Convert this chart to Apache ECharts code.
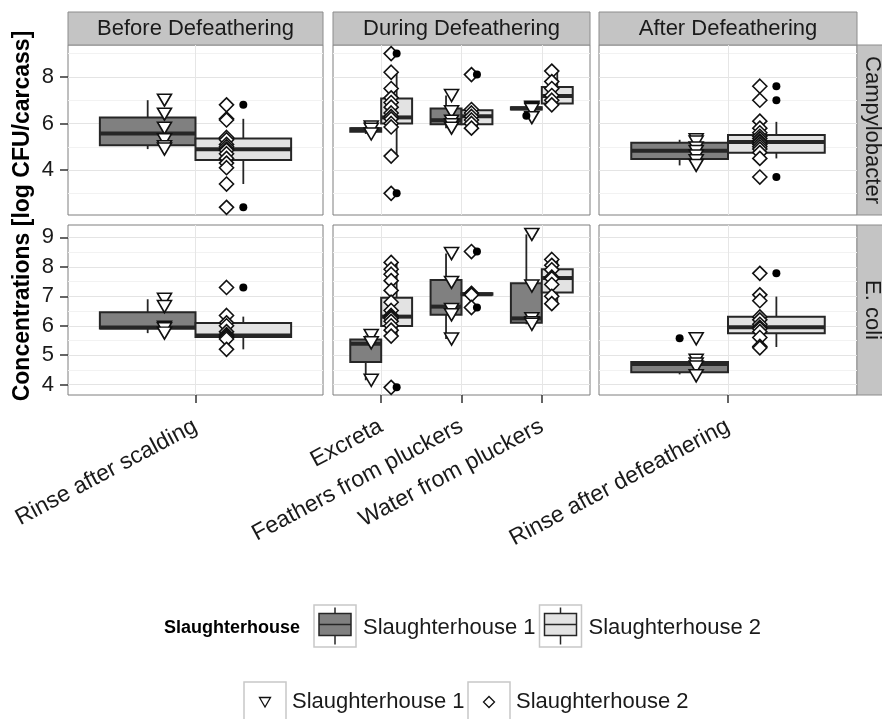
<!DOCTYPE html>
<html>
<head>
<meta charset="utf-8">
<title>Concentrations by sampling location</title>
<script src="https://cdn.jsdelivr.net/npm/echarts@6/dist/echarts.min.js"></script>
<style>
  html, body { margin: 0; padding: 0; background: #fff; }
  #chart { width: 882px; height: 719px; }
</style>
</head>
<body>
<div id="chart"></div>
<script>
const stages = ['Before Defeathering', 'During Defeathering', 'After Defeathering'];
const bacteria = ['Campylobacter', 'E. coli'];
const stageLocations = [
  ['Rinse after scalding'],
  ['Excreta', 'Feathers from pluckers', 'Water from pluckers'],
  ['Rinse after defeathering']
];
const houses = ['Slaughterhouse 1', 'Slaughterhouse 2'];

// axis ticks and ranges per row
const campyTicks = [4, 6, 8];
const campyMinor = [3, 5, 7, 9];
const campyRange = [2.07, 9.37];
const ecoliTicks = [4, 5, 6, 7, 8, 9];
const ecoliMinor = [4.5, 5.5, 6.5, 7.5, 8.5];
const ecoliRange = [3.65, 9.42];

// box stats [lower whisker, Q1, median, Q3, upper whisker], one row per location
const campyBoxSH1 = [
  [4.9, 5.07, 5.57, 6.26, 7.0],
  [5.55, 5.65, 5.75, 5.8, 5.85],
  [5.8, 5.97, 6.14, 6.64, 7.2],
  [6.6, 6.6, 6.65, 6.7, 6.7],
  [4.2, 4.47, 4.83, 5.17, 5.3]
];
const campyBoxSH2 = [
  [3.4, 4.43, 4.89, 5.36, 6.2],
  [4.6, 6.0, 6.26, 7.07, 8.2],
  [5.8, 5.97, 6.31, 6.57, 6.6],
  [6.8, 6.86, 7.18, 7.57, 8.25],
  [4.5, 4.74, 5.21, 5.5, 6.07]
];
const ecoliBoxSH1 = [
  [5.75, 5.91, 5.94, 6.46, 6.9],
  [4.15, 4.77, 5.39, 5.53, 5.67],
  [5.55, 6.37, 6.65, 7.55, 8.45],
  [6.05, 6.1, 6.25, 7.44, 9.1],
  [4.35, 4.42, 4.7, 4.77, 4.8]
];
const ecoliBoxSH2 = [
  [5.2, 5.62, 5.67, 6.09, 6.31],
  [5.65, 5.99, 6.31, 6.95, 8.15],
  [7.04, 7.05, 7.07, 7.1, 7.1],
  [6.75, 7.13, 7.62, 7.92, 8.25],
  [5.28, 5.75, 5.95, 6.31, 6.99]
];

// outliers
const campyOutSH1 = [[], [], [], [6.33], []];
const campyOutSH2 = [[6.8, 2.4], [9.0, 3.0], [8.1], [], [7.6, 7.0, 3.7]];
const ecoliOutSH1 = [[], [], [], [], [5.58]];
const ecoliOutSH2 = [[7.3], [3.91], [8.52, 6.62], [], [7.78]];

// individual samples
const campySH1 = [
  [7.0, 6.4, 5.8, 5.3, 5.0, 4.9],
  [5.85, 5.75, 5.55],
  [7.2, 6.5, 6.1, 5.95, 5.8],
  [6.7, 6.65, 6.6, 6.25],
  [5.3, 5.2, 4.95, 4.8, 4.6, 4.4, 4.2]
];
const campySH2 = [
  [6.8, 6.2, 6.15, 5.4, 5.3, 5.1, 5.0, 4.9, 4.85, 4.7, 4.5, 4.3, 4.1, 3.4, 2.4],
  [9.0, 8.2, 7.5, 7.1, 6.9, 6.7, 6.45, 6.3, 6.2, 6.0, 5.85, 4.6, 3.0],
  [8.1, 6.6, 6.45, 6.3, 6.15, 6.0, 5.8],
  [8.25, 7.8, 7.5, 7.2, 7.0, 6.8],
  [7.6, 7.0, 6.1, 5.8, 5.6, 5.45, 5.35, 5.25, 5.2, 5.1, 5.0, 4.9, 4.75, 4.5, 3.7]
];
const ecoliSH1 = [
  [6.9, 6.65, 5.95, 5.9, 5.75],
  [5.67, 5.42, 4.15],
  [8.45, 7.47, 6.55, 6.37, 5.55],
  [9.1, 7.35, 6.24, 6.1, 6.05],
  [5.56, 4.83, 4.7, 4.6, 4.3]
];
const ecoliSH2 = [
  [7.3, 6.35, 6.1, 6.0, 5.8, 5.7, 5.65, 5.6, 5.55, 5.2],
  [8.15, 7.92, 7.75, 7.53, 7.2, 6.8, 6.52, 6.35, 6.3, 6.25, 6.15, 6.0, 5.85, 5.65, 3.91],
  [8.52, 7.1, 7.07, 7.05, 6.62],
  [8.25, 8.05, 7.9, 7.65, 7.6, 7.4, 7.0, 6.75],
  [7.78, 7.05, 6.85, 6.3, 6.2, 6.05, 5.95, 5.9, 5.8, 5.6, 5.3, 5.25]
];

const FONT = "'Liberation Sans', Arial, Helvetica, sans-serif";
const INK = '#262626';
const colLeft = [68, 333, 599];
const colWidth = [255, 257, 258];
const rowTop = [45, 225];
const rowHeight = 170;
const boxWidth = [0.45, 0.385, 0.45];
const pointShift = [0.146, 0.124, 0.148];
const boxFill = ['#808080', '#e3e3e3'];

const rows = [
  { ticks: campyTicks, minor: campyMinor, range: campyRange,
    box: [campyBoxSH1, campyBoxSH2], out: [campyOutSH1, campyOutSH2], pts: [campySH1, campySH2] },
  { ticks: ecoliTicks, minor: ecoliMinor, range: ecoliRange,
    box: [ecoliBoxSH1, ecoliBoxSH2], out: [ecoliOutSH1, ecoliOutSH2], pts: [ecoliSH1, ecoliSH2] }
];

// flat location index -> facet column / position in it
const locCol = [], locPos = [];
stageLocations.forEach((locs, c) => locs.forEach((_, p) => { locCol.push(c); locPos.push(p + 1); }));

function boxRenderer(w) {
  return function (params, api) {
    const x = api.value(0);
    const sh = api.value(6);
    const lo = api.coord([x, api.value(1)]);
    const q1 = api.coord([x, api.value(2)]);
    const med = api.coord([x, api.value(3)]);
    const q3 = api.coord([x, api.value(4)]);
    const hi = api.coord([x, api.value(5)]);
    const px = api.size([w, 0])[0];
    const cx = med[0];
    return {
      type: 'group',
      children: [
        { type: 'line', shape: { x1: cx, y1: hi[1], x2: cx, y2: q3[1] }, style: { stroke: INK, lineWidth: 1.8 } },
        { type: 'line', shape: { x1: cx, y1: q1[1], x2: cx, y2: lo[1] }, style: { stroke: INK, lineWidth: 1.8 } },
        { type: 'rect', shape: { x: cx - px / 2, y: q3[1], width: px, height: Math.max(q1[1] - q3[1], 0) },
          style: { fill: boxFill[sh], stroke: INK, lineWidth: 2 } },
        { type: 'line', shape: { x1: cx - px / 2, y1: med[1], x2: cx + px / 2, y2: med[1] }, style: { stroke: INK, lineWidth: 4 } }
      ]
    };
  };
}

const grids = [], xAxes = [], yAxes = [], series = [];

rows.forEach((row, r) => {
  stageLocations.forEach((locs, c) => {
    const i = r * 3 + c;
    const positions = locs.map((_, p) => p + 1);
    grids.push({
      left: colLeft[c], top: rowTop[r], width: colWidth[c], height: rowHeight,
      show: true, backgroundColor: '#fff', borderColor: '#7f7f7f', borderWidth: 1,
      outerBoundsMode: 'none'
    });
    xAxes.push({
      type: 'value', gridIndex: i, min: 0.4, max: locs.length + 0.6,
      axisLine: { show: false },
      axisTick: { show: r === 1, customValues: positions, length: 8, lineStyle: { color: '#333', width: 1.5 } },
      splitLine: { show: true, lineStyle: { color: '#e6e6e6', width: 1 } },
      axisLabel: {
        show: r === 1, customValues: positions, rotate: 28, margin: 30,
        fontSize: 23, fontFamily: FONT, color: '#1a1a1a',
        formatter: v => locs[Math.round(v) - 1]
      }
    });
    yAxes.push({
      type: 'value', gridIndex: i, min: row.range[0], max: row.range[1],
      axisLine: { show: false },
      axisTick: { show: c === 0, customValues: row.ticks, length: 8, lineStyle: { color: '#333', width: 1.5 } },
      axisLabel: { show: c === 0, customValues: row.ticks, margin: 14, fontSize: 22, fontFamily: FONT, color: '#1a1a1a' },
      splitLine: { show: true, lineStyle: { color: '#e4e4e4', width: 1 } }
    });
    yAxes.push({
      type: 'value', gridIndex: i, position: 'right', min: row.range[0], max: row.range[1],
      axisLine: { show: false },
      axisTick: { show: false, customValues: row.minor },
      axisLabel: { show: false },
      splitLine: { show: true, lineStyle: { color: '#f2f2f2', width: 1 } }
    });

    const boxData = [], shPts = [[], []], outPts = [];
    locCol.forEach((col, k) => {
      if (col !== c) return;
      const p = locPos[k];
      [0, 1].forEach(sh => {
        const side = sh ? 1 : -1;
        const bx = p + side * boxWidth[c] / 2;
        boxData.push([bx].concat(row.box[sh][k], [sh]));
        row.pts[sh][k].forEach(v => shPts[sh].push([p + side * pointShift[c], v]));
        row.out[sh][k].forEach(v => outPts.push([bx, v]));
      });
    });

    series.push({
      type: 'custom', xAxisIndex: i, yAxisIndex: 2 * i, silent: true, z: 2,
      renderItem: boxRenderer(boxWidth[c]),
      encode: { x: 0, y: [1, 2, 3, 4, 5] },
      data: boxData
    });
    series.push({
      type: 'scatter', name: houses[0], xAxisIndex: i, yAxisIndex: 2 * i, silent: true, z: 3,
      symbol: 'triangle', symbolRotate: 180, symbolSize: [14, 12],
      itemStyle: { color: '#fff', borderColor: '#111', borderWidth: 1.6, opacity: 1 },
      data: shPts[0]
    });
    series.push({
      type: 'scatter', name: houses[1], xAxisIndex: i, yAxisIndex: 2 * i, silent: true, z: 3,
      symbol: 'diamond', symbolSize: [14, 14],
      itemStyle: { color: '#fff', borderColor: '#111', borderWidth: 1.6, opacity: 1 },
      data: shPts[1]
    });
    series.push({
      type: 'scatter', xAxisIndex: i, yAxisIndex: 2 * i, silent: true, z: 4,
      symbol: 'circle', symbolSize: 8,
      itemStyle: { color: '#000', opacity: 1 },
      data: outPts
    });
  });
});

// facet strips, axis title and the two legends
const graphic = [];
stages.forEach((s, c) => {
  graphic.push({ type: 'rect', shape: { x: colLeft[c], y: 12, width: colWidth[c], height: 33 },
    style: { fill: '#c4c4c4', stroke: '#8c8c8c', lineWidth: 1 } });
  graphic.push({ type: 'text', x: colLeft[c] + colWidth[c] / 2, y: 29,
    style: { text: s, font: '22px ' + FONT, fill: '#1a1a1a', textAlign: 'center', textVerticalAlign: 'middle' } });
});
bacteria.forEach((b, r) => {
  graphic.push({ type: 'rect', shape: { x: 857, y: rowTop[r], width: 34, height: rowHeight },
    style: { fill: '#c4c4c4', stroke: '#8c8c8c', lineWidth: 1 } });
  graphic.push({ type: 'text', x: 872, y: rowTop[r] + rowHeight / 2, rotation: -Math.PI / 2,
    style: { text: b, font: '22px ' + FONT, fill: '#1a1a1a', textAlign: 'center', textVerticalAlign: 'middle' } });
});
graphic.push({ type: 'text', x: 23, y: 216, rotation: Math.PI / 2,
  style: { text: 'Concentrations [log CFU/carcass]', font: 'bold 23px ' + FONT, fill: '#000',
    textAlign: 'center', textVerticalAlign: 'middle' } });

// legend: box keys
graphic.push({ type: 'text', x: 164, y: 628,
  style: { text: 'Slaughterhouse', font: 'bold 18px ' + FONT, fill: '#000', textAlign: 'left', textVerticalAlign: 'middle' } });
[314, 539.5].forEach((kx, sh) => {
  const cx = kx + 21;
  graphic.push({ type: 'rect', shape: { x: kx, y: 605, width: 42, height: 42 },
    style: { fill: '#fff', stroke: '#c8c8c8', lineWidth: 1.5 } });
  graphic.push({ type: 'line', shape: { x1: cx, y1: 607.5, x2: cx, y2: 644.5 }, style: { stroke: INK, lineWidth: 1.5 } });
  graphic.push({ type: 'rect', shape: { x: kx + 5, y: 613.5, width: 32, height: 22 },
    style: { fill: boxFill[sh], stroke: INK, lineWidth: 1.5 } });
  graphic.push({ type: 'line', shape: { x1: kx + 5, y1: 624.5, x2: kx + 37, y2: 624.5 }, style: { stroke: INK, lineWidth: 1.5 } });
  graphic.push({ type: 'text', x: kx + 49, y: 628,
    style: { text: houses[sh], font: '22px ' + FONT, fill: '#1a1a1a', textAlign: 'left', textVerticalAlign: 'middle' } });
});

// legend: point keys
[244, 468].forEach((kx, sh) => {
  const cx = kx + 21, cy = 702;
  graphic.push({ type: 'rect', shape: { x: kx, y: 682, width: 42, height: 42 },
    style: { fill: '#fff', stroke: '#c8c8c8', lineWidth: 1.5 } });
  const pts = sh === 0
    ? [[cx - 5.5, cy - 4.5], [cx + 5.5, cy - 4.5], [cx, cy + 5]]
    : [[cx, cy - 5.5], [cx + 5.5, cy], [cx, cy + 5.5], [cx - 5.5, cy]];
  graphic.push({ type: 'polygon', shape: { points: pts }, style: { fill: '#fff', stroke: '#111', lineWidth: 1.3 } });
  graphic.push({ type: 'text', x: kx + 48, y: cy,
    style: { text: houses[sh], font: '22px ' + FONT, fill: '#1a1a1a', textAlign: 'left', textVerticalAlign: 'middle' } });
});

const chart = echarts.init(document.getElementById('chart'));
chart.setOption({
  animation: false,
  backgroundColor: '#fff',
  textStyle: { fontFamily: FONT },
  grid: grids,
  xAxis: xAxes,
  yAxis: yAxes,
  series: series,
  graphic: graphic
});
</script>
</body>
</html>
